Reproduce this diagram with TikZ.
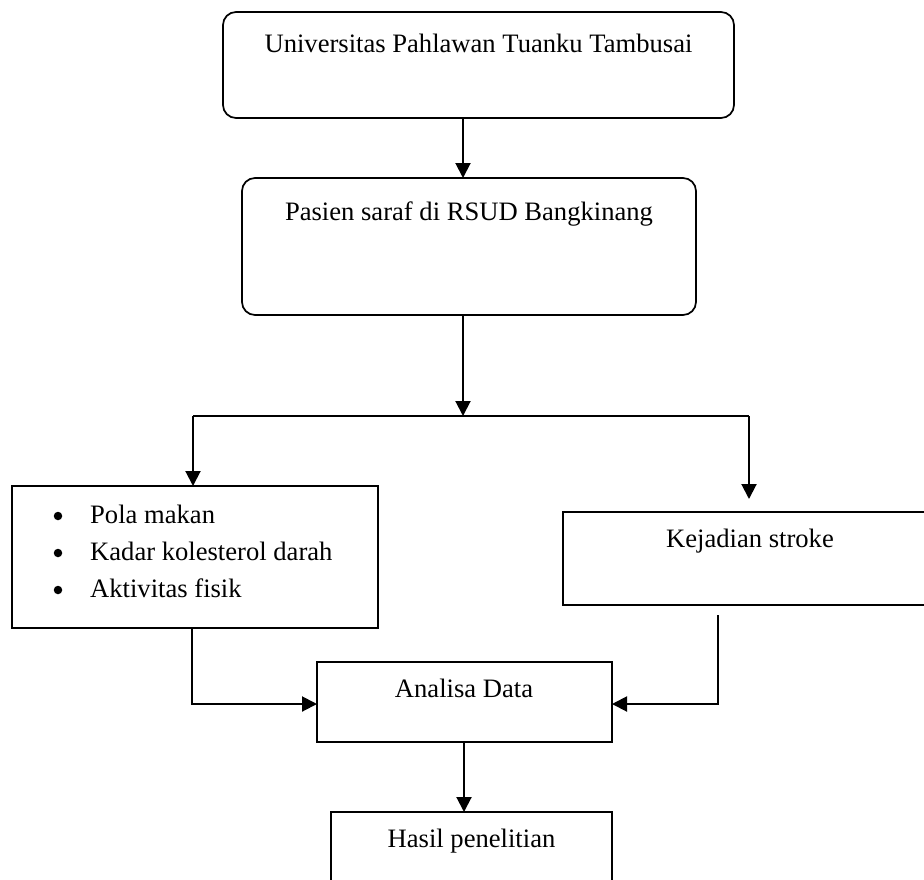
\documentclass[tikz,border=0pt]{standalone}
\usepackage{fontspec}
\setmainfont{Liberation Serif}
\usetikzlibrary{arrows.meta}
\begin{document}
\begin{tikzpicture}[x=1pt,y=-1pt,
  box/.style={draw, line width=1.7pt, inner sep=0pt, outer sep=0pt},
  rbox/.style={box, rounded corners=13pt},
  txt/.style={anchor=base, inner sep=0pt, font=\fontsize{26.6}{37}\selectfont},
  dot/.style={circle, fill=black, inner sep=0pt, minimum size=8.5pt},
  conn/.style={line width=2pt},
  arr/.style={conn, -{Triangle[length=15pt,width=15pt]}}]
\clip (0,0) rectangle (924,879);
\fill[white] (0,0) rectangle (924,879);
% boxes
\node[rbox, minimum width=511pt, minimum height=106pt] (b1) at (478.5,65) {};
\node[txt] (t1) at (478.5,52) {Universitas Pahlawan Tuanku Tambusai};
\node[rbox, minimum width=454pt, minimum height=137pt] (b2) at (469,246.5) {};
\node[txt] (t2) at (469,220) {Pasien saraf di RSUD Bangkinang};
\node[box, minimum width=366pt, minimum height=142pt] (l) at (195,557) {};
\node[dot] (lb1) at (58,516) {};
\node[dot] (lb2) at (58,553) {};
\node[dot] (lb3) at (58,590) {};
\node[txt, anchor=base west] (lt1) at (90,523) {Pola makan};
\node[txt, anchor=base west] (lt2) at (90,560) {Kadar kolesterol darah};
\node[txt, anchor=base west] (lt3) at (90,597) {Aktivitas fisik};
\node[box, minimum width=372pt, minimum height=93pt] (r) at (749,558.5) {};
\node[txt] (t3) at (750,547) {Kejadian stroke};
\node[box, minimum width=295pt, minimum height=80pt] (a) at (464.5,702) {};
\node[txt] (t4) at (464,697) {Analisa Data};
\node[box, minimum width=281pt, minimum height=88pt] (h) at (471.5,856) {};
\node[txt] (t5) at (471.5,847) {Hasil penelitian};
% coordinates
\coordinate (xa) at (463,0);
\coordinate (xb) at (464,0);
\coordinate (split) at (463,416);
\coordinate (sl) at (193,416);
\coordinate (sr) at (749,416);
\coordinate (rt) at (749,499);
\coordinate (lc) at (192,704);
\coordinate (rs) at (718,615);
\coordinate (rc) at (718,704);
% connectors
\draw[arr] (b1.south -| xa) -- (b2.north -| xa);
\draw[arr] (b2.south -| xa) -- (split);
\draw[conn] (sl) -- (sr);
\draw[arr] (sl) -- (l.north -| sl);
\draw[arr] (sr) -- (rt);
\draw[arr] (l.south -| lc) -- (lc) -- (a.west |- lc);
\draw[arr] (rs) -- (rc) -- (a.east |- rc);
\draw[arr] (a.south -| xb) -- (h.north -| xb);
\end{tikzpicture}
\end{document}
